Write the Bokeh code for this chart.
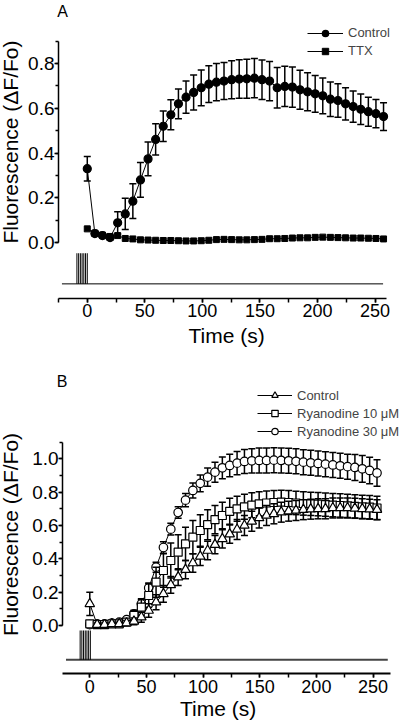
import math
from bokeh.plotting import figure
from bokeh.layouts import column
from bokeh.models import (ColumnDataSource, Range1d, SingleIntervalTicker,
                          NumeralTickFormatter, Legend, LegendItem, Label)
from bokeh.embed import file_html
from bokeh.resources import INLINE

FONT = "Liberation Sans"

# ---------------- Panel A data ----------------
time_a = [0, 6.6, 13.2, 19.8, 26.4, 33.0, 39.6, 46.2, 52.8, 59.4,
          66.0, 72.6, 79.2, 85.8, 92.4, 99.0, 105.6, 112.2, 118.8, 125.4,
          132.0, 138.6, 145.2, 151.8, 158.4, 165.0, 171.6, 178.2, 184.8, 191.4,
          198.0, 204.6, 211.2, 217.8, 224.4, 231.0, 237.6, 244.2, 250.8, 257.4]
control_a = [0.33, 0.040, 0.031, 0.022, 0.088, 0.128, 0.185, 0.28, 0.374, 0.461,
             0.52, 0.571, 0.62, 0.65, 0.671, 0.692, 0.708, 0.717, 0.722, 0.728,
             0.731, 0.732, 0.735, 0.728, 0.722, 0.692, 0.698, 0.695, 0.683, 0.674,
             0.665, 0.656, 0.641, 0.635, 0.620, 0.608, 0.596, 0.585, 0.576, 0.563]
control_a_err = [0.055, 0.01, 0.01, 0.01, 0.05, 0.07, 0.078, 0.078, 0.075, 0.07,
                 0.068, 0.067, 0.066, 0.072, 0.078, 0.08, 0.082, 0.083, 0.083, 0.085,
                 0.086, 0.087, 0.088, 0.088, 0.088, 0.091, 0.09, 0.09, 0.087, 0.085,
                 0.082, 0.08, 0.077, 0.075, 0.072, 0.07, 0.068, 0.065, 0.063, 0.062]
ttx_a = [0.061, 0.042, 0.033, 0.027, 0.031, 0.018, 0.016, 0.012, 0.011, 0.010,
         0.009, 0.009, 0.008, 0.007, 0.007, 0.008, 0.010, 0.013, 0.014, 0.013,
         0.012, 0.012, 0.013, 0.014, 0.017, 0.017, 0.018, 0.020, 0.021, 0.021,
         0.023, 0.024, 0.023, 0.022, 0.021, 0.020, 0.020, 0.019, 0.018, 0.016]

# stimulus trace A
stim_a_span = [-22, 257]
stim_a_level = -0.185
stim_a_top = -0.048
stim_a_pulses = [-9, -7.5, -6, -4.5, -3, -1.5, 0]

# ---------------- Panel B data ----------------
time_b = [0, 6.5, 13, 19.5, 26, 32.5, 39, 45.5, 52, 58.5,
          65, 71.5, 78, 84.5, 91, 97.5, 104, 110.5, 117, 123.5,
          130, 136.5, 143, 149.5, 156, 162.5, 169, 175.5, 182, 188.5,
          195, 201.5, 208, 214.5, 221, 227.5, 234, 240.5, 247, 253.5]
control_b = [0.13, 0.005, 0.005, 0.01, 0.01, 0.015, 0.025, 0.05, 0.09, 0.14,
             0.19, 0.244, 0.29, 0.335, 0.375, 0.415, 0.45, 0.485, 0.52, 0.548,
             0.576, 0.60, 0.625, 0.645, 0.66, 0.67, 0.68, 0.686, 0.69, 0.695,
             0.698, 0.70, 0.70, 0.705, 0.705, 0.705, 0.703, 0.70, 0.698, 0.695]
control_b_err = [0.07, 0.01, 0.01, 0.01, 0.01, 0.015, 0.02, 0.03, 0.04, 0.045,
                 0.05, 0.05, 0.05, 0.055, 0.055, 0.055, 0.055, 0.055, 0.055, 0.055,
                 0.06, 0.06, 0.06, 0.06, 0.06, 0.06, 0.06, 0.06, 0.06, 0.06,
                 0.06, 0.06, 0.06, 0.06, 0.06, 0.06, 0.06, 0.06, 0.06, 0.06]
ryr10_b = [0.01, 0.005, 0.005, 0.01, 0.01, 0.02, 0.06, 0.11, 0.18, 0.26,
           0.33, 0.39, 0.44, 0.49, 0.53, 0.57, 0.605, 0.635, 0.66, 0.685,
           0.70, 0.712, 0.722, 0.73, 0.735, 0.738, 0.74, 0.738, 0.735, 0.732,
           0.73, 0.728, 0.725, 0.722, 0.72, 0.718, 0.715, 0.712, 0.71, 0.705]
ryr10_b_err = [0.01, 0.01, 0.01, 0.01, 0.01, 0.015, 0.03, 0.05, 0.07, 0.09,
               0.1, 0.105, 0.105, 0.1, 0.1, 0.095, 0.09, 0.085, 0.08, 0.078,
               0.075, 0.075, 0.075, 0.072, 0.072, 0.072, 0.072, 0.072, 0.07, 0.07,
               0.07, 0.07, 0.07, 0.07, 0.07, 0.07, 0.07, 0.07, 0.07, 0.07]
ryr30_b = [0.005, 0.01, 0.01, 0.015, 0.02, 0.035, 0.07, 0.13, 0.225, 0.35,
           0.468, 0.578, 0.678, 0.752, 0.81, 0.853, 0.89, 0.92, 0.946, 0.96,
           0.974, 0.984, 0.988, 0.99, 0.99, 0.992, 0.99, 0.988, 0.985, 0.98,
           0.976, 0.972, 0.968, 0.963, 0.958, 0.953, 0.948, 0.94, 0.93, 0.915]
ryr30_b_err = [0.01, 0.01, 0.01, 0.01, 0.01, 0.01, 0.02, 0.025, 0.03, 0.03,
               0.035, 0.035, 0.035, 0.04, 0.045, 0.05, 0.055, 0.06, 0.065, 0.068,
               0.07, 0.072, 0.073, 0.075, 0.075, 0.075, 0.075, 0.075, 0.075, 0.075,
               0.075, 0.075, 0.075, 0.075, 0.075, 0.075, 0.078, 0.08, 0.08, 0.08]

# stimulus trace B
stim_b_span = [-21, 263]
stim_b_level = -0.206
stim_b_top = -0.03
stim_b_pulses = [-8.5, -7, -5.5, -4, -2.5, -1, 0.5]


def make_fig(h, xr, yr):
    p = figure(width=402, height=h, x_range=Range1d(*xr), y_range=Range1d(*yr),
               output_backend="svg", toolbar_location=None, title=None,
               min_border_left=0, min_border_right=0,
               min_border_top=0, min_border_bottom=0)
    p.xgrid.visible = False
    p.ygrid.visible = False
    p.outline_line_color = None
    p.background_fill_color = "white"
    p.border_fill_color = "white"
    return p


def style_axes(p, xb, yb, x_at, y_at, x_lw):
    xa = p.xaxis[0]
    ya = p.yaxis[0]
    xa.fixed_location = x_at
    ya.fixed_location = y_at
    xa.ticker = SingleIntervalTicker(interval=50, num_minor_ticks=2)
    ya.ticker = SingleIntervalTicker(interval=0.2, num_minor_ticks=2)
    ya.formatter = NumeralTickFormatter(format="0.0")
    xa.bounds = xb
    ya.bounds = yb
    for ax in (xa, ya):
        ax.axis_line_color = "black"
        ax.major_tick_line_color = "black"
        ax.minor_tick_line_color = "black"
        ax.major_tick_line_width = 1.5
        ax.minor_tick_line_width = 1.5
        ax.major_tick_in = 0
        ax.minor_tick_in = 0
        ax.major_label_text_font = FONT
        ax.major_label_text_color = "black"
    xa.axis_line_width = x_lw
    ya.axis_line_width = 1.5
    xa.major_tick_out = 4
    xa.minor_tick_out = 4
    ya.major_tick_out = 4
    ya.minor_tick_out = 3
    xa.major_label_standoff = 2
    ya.major_label_standoff = 0
    xa.major_label_text_font_size = "18px"
    ya.major_label_text_font_size = "19px"


def series(p, t, y, err, marker, size, fill, lw=1.2):
    src = ColumnDataSource(dict(t=t, y=y))
    if err is not None:
        src.data["lo"] = [a - b for a, b in zip(y, err)]
        src.data["hi"] = [a + b for a, b in zip(y, err)]
        p.segment(x0="t", y0="lo", x1="t", y1="hi", source=src,
                  line_color="black", line_width=1.5)
        p.scatter(x="t", y="hi", source=src, marker="dash", size=7,
                  line_color="black", line_width=1.5)
        p.scatter(x="t", y="lo", source=src, marker="dash", size=7,
                  line_color="black", line_width=1.5)
    ln = p.line(x="t", y="y", source=src, line_color="black", line_width=1)
    sc = p.scatter(x="t", y="y", source=src, marker=marker, size=size,
                   fill_color=fill, line_color="black", line_width=lw)
    return ln, sc


def stim(p, span, level, top, pulses, color, lw):
    p.line(x=span, y=[level, level], line_color=color, line_width=lw)
    p.segment(x0=pulses, y0=[level] * len(pulses), x1=pulses, y1=[top] * len(pulses),
              line_color="black", line_width=1)


def text(p, x, y, s, size, align="center", baseline="middle", angle=0.0):
    p.add_layout(Label(x=x, y=y, text=s, text_font=FONT, text_font_size=size,
                       text_color="black", text_align=align, text_baseline=baseline,
                       angle=angle, angle_units="rad"))


# ---------------- Figure A ----------------
pA = make_fig(360, (-75.39, 273.87), (-0.5277, 1.0823))
style_axes(pA, (-25, 260), (0, 0.9), -0.25, -25, 1.5)
stim(pA, stim_a_span, stim_a_level, stim_a_top, stim_a_pulses, "black", 1)
lt, st = series(pA, time_a, ttx_a, None, "square", 6, "black", lw=1)
lc, sc = series(pA, time_a, control_a, control_a_err, "circle", 8, "black")
legA = Legend(items=[LegendItem(label="Control", renderers=[lc, sc]),
                     LegendItem(label="TTX", renderers=[lt, st])],
              location=(307, 301.5), padding=0, margin=0, spacing=2,
              glyph_width=36, glyph_height=16, label_height=16, label_standoff=5,
              label_text_font=FONT, label_text_font_size="13px",
              border_line_alpha=0, background_fill_alpha=0)
pA.add_layout(legA)
text(pA, -21.5, 1.033, "A", "16px")
text(pA, 121, -0.416, "Time (s)", "21px")
text(pA, -66.7, 0.4494, "Fluorescence (\u0394F/Fo)", "21px", angle=math.pi / 2)

# ---------------- Figure B ----------------
pB = make_fig(361, (-78.8, 276.0), (-0.5759, 1.5897))
style_axes(pB, (-24, 265), (0, 1.1), -0.288, -24, 2)
stim(pB, stim_b_span, stim_b_level, stim_b_top, stim_b_pulses, "#444444", 2)
l30, s30 = series(pB, time_b, ryr30_b, ryr30_b_err, "circle", 8.5, "white")
l10, s10 = series(pB, time_b, ryr10_b, ryr10_b_err, "square", 8, "white")
lcb, scb = series(pB, time_b, control_b, control_b_err, "triangle", 9.5, "white")
legB = Legend(items=[LegendItem(label="Control", renderers=[lcb, scb]),
                     LegendItem(label="Ryanodine 10 \u03bcM", renderers=[l10, s10]),
                     LegendItem(label="Ryanodine 30 \u03bcM", renderers=[l30, s30])],
              location=(257, 282), padding=0, margin=0, spacing=2,
              glyph_width=35, glyph_height=16, label_height=16, label_standoff=5,
              label_text_font=FONT, label_text_font_size="13px",
              border_line_alpha=0, background_fill_alpha=0)
pB.add_layout(legB)
text(pB, -24.5, 1.4637, "B", "16px")
text(pB, 113.3, -0.495, "Time (s)", "21px")
text(pB, -70.0, 0.546, "Fluorescence (\u0394F/Fo)", "21px", angle=math.pi / 2)

layout = column(pA, pB)
with open("out.html", "w") as f:
    f.write(file_html(layout, INLINE))
